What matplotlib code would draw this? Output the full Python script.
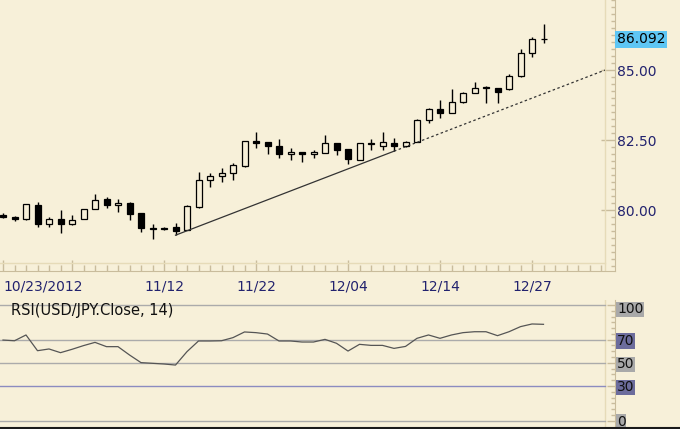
import numpy as np
import matplotlib
matplotlib.use('Agg')
import matplotlib.pyplot as plt
from matplotlib.patches import Rectangle
from matplotlib.lines import Line2D
from matplotlib.transforms import blended_transform_factory

# ---- data (USD/JPY daily) ----
dates = ['10/23', '10/24', '10/25', '10/26', '10/29', '10/30', '10/31',
         '11/01', '11/02', '11/05', '11/06', '11/07', '11/08', '11/09',
         '11/12', '11/13', '11/14', '11/15', '11/16', '11/19', '11/20',
         '11/21', '11/22', '11/23', '11/26', '11/27', '11/28', '11/29',
         '11/30', '12/03', '12/04', '12/05', '12/06', '12/07', '12/10',
         '12/11', '12/12', '12/13', '12/14', '12/17', '12/18', '12/19',
         '12/20', '12/21', '12/24', '12/26', '12/27', '12/28']
opens = [79.82, 79.74, 79.67, 80.18, 79.51, 79.68, 79.49, 79.68, 80.02, 80.38,
         80.18, 80.24, 79.88, 79.35, 79.37, 79.38, 79.29, 80.10, 81.07, 81.23,
         81.31, 81.57, 82.46, 82.42, 82.30, 81.99, 82.08, 81.99, 82.02, 82.38,
         82.17, 81.79, 82.37, 82.30, 82.40, 82.29, 82.44, 83.21, 83.60, 83.45,
         83.87, 84.17, 84.38, 84.35, 84.32, 84.79, 85.60, 86.12]
highs = [79.88, 79.80, 80.23, 80.27, 79.76, 80.00, 79.82, 80.05, 80.57, 80.48,
         80.39, 80.30, 79.88, 79.50, 79.40, 79.52, 80.18, 81.37, 81.33, 81.49,
         81.69, 82.48, 82.77, 82.42, 82.52, 82.20, 82.08, 82.14, 82.68, 82.40,
         82.17, 82.40, 82.53, 82.80, 82.56, 82.48, 83.24, 83.63, 83.93, 84.31,
         84.23, 84.58, 84.42, 84.35, 84.85, 85.74, 86.17, 86.64]
lows = [79.70, 79.62, 79.64, 79.40, 79.40, 79.17, 79.45, 79.68, 80.02, 80.06,
        79.94, 79.64, 79.20, 78.96, 79.30, 79.10, 79.29, 80.06, 80.83, 81.01,
        81.07, 81.55, 82.20, 82.00, 81.87, 81.79, 81.71, 81.85, 82.02, 81.95,
        81.66, 81.79, 82.15, 82.14, 82.10, 82.26, 82.42, 83.10, 83.27, 83.45,
        83.81, 84.17, 83.83, 83.83, 84.28, 84.74, 85.48, 85.98]
closes = [79.75, 79.68, 80.20, 79.49, 79.68, 79.50, 79.64, 80.02, 80.36, 80.17,
          80.24, 79.85, 79.35, 79.33, 79.33, 79.26, 80.14, 81.07, 81.21, 81.33,
          81.61, 82.48, 82.40, 82.30, 81.99, 82.08, 82.00, 82.06, 82.38, 82.14,
          81.81, 82.40, 82.35, 82.42, 82.29, 82.44, 83.21, 83.60, 83.45, 83.87,
          84.17, 84.37, 84.36, 84.20, 84.79, 85.62, 86.10, 86.092]
rsi = [69.7, 69.1, 74.1, 60.5, 62.0, 58.8, 61.7, 64.9, 67.7, 64.0,
       64.0, 56.8, 50.2, 49.6, 49.0, 48.1, 59.7, 68.9, 68.9, 69.1,
       71.8, 76.7, 76.1, 74.9, 68.9, 68.9, 68.0, 68.0, 70.3, 66.9,
       60.2, 66.0, 65.1, 65.1, 62.5, 64.2, 71.2, 74.1, 71.2, 74.1,
       76.1, 76.9, 76.9, 73.5, 76.9, 81.3, 83.6, 83.3]
label_idx = [14, 22, 30, 38, 46]
price_ticks = [80.0, 82.5, 85.0]
rsi_levels = [100, 70, 50, 30, 0]
trend_idx = [15, 34]          # bars whose lows anchor the trendline
last_price = 86.092

# ---- style ----
BG = '#F7F0D9'
FRAME = '#E6DBB8'
AXIS = '#C9BC9C'
NAVY = '#22226E'
GRAY_BOX = '#A9A9A9'
PURP_BOX = '#6C6C9C'

W, H = 680, 429
STEP = 11.5                   # pixels per bar
X0 = -3 / STEP                # bar 0 sits 3 px in

fig = plt.figure(figsize=(W / 100, H / 100), dpi=100, facecolor=BG)


def px_axes(x0, y0, x1, y1):
    return fig.add_axes([x0 / W, 1 - y1 / H, (x1 - x0) / W, (y1 - y0) / H])


def style_axes(a):
    a.set_facecolor(BG)
    for s in ['top', 'left']:
        a.spines[s].set_visible(False)
    a.spines['right'].set_color(AXIS)
    a.spines['bottom'].set_color(AXIS)
    a.yaxis.tick_right()
    a.tick_params(which='both', direction='in', colors=AXIS, width=1)


x_frame = X0 + 605 / STEP
xs = np.arange(len(dates))

# ---- price panel ----
ax = px_axes(0, 0, 615, 271)
style_axes(ax)
ax.set_xlim(X0, X0 + 615 / STEP)
ax.set_ylim(85 - 201 / 28, 85 + 70 / 28)
ax.axvline(x_frame, color=FRAME, lw=1)
ax.axhline(85 - 192.7 / 28, xmax=605 / 615, color=FRAME, lw=1)

bw = 6 / STEP
for i, (o, h, l, c) in enumerate(zip(opens, highs, lows, closes)):
    ax.plot([i, i], [l, h], color='black', lw=1, zorder=2, solid_capstyle='butt')
    fc = 'black' if c < o else BG
    ax.add_patch(Rectangle((i - bw / 2, min(o, c)), bw, max(abs(c - o), 0.03),
                           facecolor=fc, edgecolor='black', lw=0.9, zorder=3))

# trendline through two lows, extended dotted to the frame edge
xa, xb = trend_idx
ya, yb = lows[xa], lows[xb]
slope = (yb - ya) / (xb - xa)
ax.plot([xa, xb], [ya, yb], color='#333333', lw=0.9, zorder=4)
ax.plot([xb, x_frame], [yb, yb + slope * (x_frame - xb)], color='#333333',
        lw=0.9, dashes=(2, 2), zorder=4)

ax.set_yticks(price_ticks)
ax.set_yticklabels([f'{v:.2f}' for v in price_ticks])
ax.set_yticks(np.arange(78.0, 87.6, 0.25), minor=True)
ax.tick_params(axis='y', which='major', length=10, pad=1.5, labelcolor=NAVY, labelsize=10)
ax.tick_params(axis='y', which='minor', length=3)

major_x = [0, 6] + label_idx
ax.set_xticks(major_x)
ax.set_xticklabels(['10/23/2012', ''] + [dates[i] for i in label_idx])
ax.set_xticks(np.arange(0, 53), minor=True)
ax.tick_params(axis='x', which='major', length=8, pad=6, labelcolor=NAVY, labelsize=10)
ax.tick_params(axis='x', which='minor', length=4)
ax.get_xticklabels()[0].set_horizontalalignment('left')

trans = blended_transform_factory(ax.transAxes, ax.transData)
ax.text(617 / 615, last_price, f'{last_price:.3f}', transform=trans, ha='left',
        va='center', fontsize=10, color='black', clip_on=False,
        bbox=dict(boxstyle='square,pad=0.12', fc='#5EC6F4', ec='none'))

# ---- RSI panel ----
ar = px_axes(0, 300, 615, 427)
style_axes(ar)
ar.spines['bottom'].set_visible(False)
ar.set_xlim(X0, X0 + 615 / STEP)
ar.set_ylim(-6.3 / 1.157, 100 + 5 / 1.157)
ar.axvline(x_frame, color=FRAME, lw=1)
for lv in rsi_levels:
    ar.axhline(lv, xmax=605 / 615, lw=1,
               color='#8C8CC0' if lv == 30 else '#ABABAB')
ar.plot(xs, rsi, color='#555555', lw=0.9)
ar.set_xticks([])
ar.set_yticks(rsi_levels)
ar.set_yticklabels([])
ar.set_yticks(np.arange(0, 101, 5), minor=True)
ar.tick_params(axis='y', which='major', length=6)
ar.tick_params(axis='y', which='minor', length=3)

transr = blended_transform_factory(ar.transAxes, ar.transData)
for lv in rsi_levels:
    box = PURP_BOX if lv in (70, 30) else GRAY_BOX
    ar.text(617 / 615, min(lv, 97.5) - 1.2, str(lv), transform=transr,
            ha='left', va='center', fontsize=10, color='#111111', clip_on=False,
            bbox=dict(boxstyle='square,pad=0.05', fc=box, ec='none'))

ar.text(11 / 615, (427 - 311) / 127, 'RSI(USD/JPY.Close, 14)', transform=ar.transAxes,
        ha='left', va='center', fontsize=10.5, color='#111111')

fig.add_artist(Line2D([0, 1], [1 / H, 1 / H], transform=fig.transFigure,
                      color='#1A1A1A', lw=1.5))

fig.savefig('out.png', dpi=100, facecolor=BG)
